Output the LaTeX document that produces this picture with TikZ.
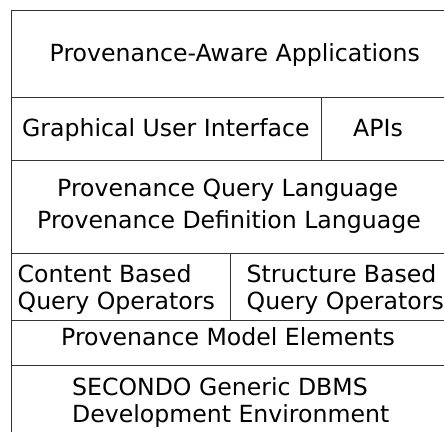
\documentclass[tikz,border=0pt]{standalone}
\usepackage{fontspec}
\setmainfont{DejaVu Sans}
\begin{document}
\begin{tikzpicture}[x=1pt,y=-1pt,
  rule/.style={draw=black!80,line width=1pt},
  lbl/.style={inner sep=0pt,anchor=base west,font=\fontsize{23.6}{27}\selectfont}]
\useasboundingbox (0,0) rectangle (444,432);
% frame and layer separators
\draw[rule] (11.5,432) -- (11.5,10.5) -- (444,10.5);
\draw[rule] (11.5,97) -- (444,97);
\draw[rule] (11.5,160) -- (444,160);
\draw[rule] (11.5,253.3) -- (444,253.3);
\draw[rule] (11.5,320) -- (444,320);
\draw[rule] (11.5,365.5) -- (444,365.5);
\draw[rule] (321.5,97) -- (321.5,160);
\draw[rule] (230.5,253.3) -- (230.5,320);
% layer labels
\node[lbl] (apps) at (49.5,61.7) {Provenance-Aware Applications};
\node[lbl] (gui) at (22,136) {Graphical User Interface};
\node[lbl] (apis) at (353,136) {APIs};
\node[lbl] (pql) at (57,196.5) {Provenance Query Language};
\node[lbl] (pdl) at (37,228) {Provenance Definition Language};
\node[lbl] (cb1) at (17.5,282) {Content Based};
\node[lbl] (cb2) at (17.5,309) {Query Operators};
\node[lbl] (sb1) at (246.5,282) {Structure Based};
\node[lbl] (sb2) at (246.5,309) {Query Operators};
\node[lbl] (pme) at (61,345) {Provenance Model Elements};
\node[lbl] (sec1) at (72,395) {SECONDO Generic DBMS};
\node[lbl] (sec2) at (72,422.3) {Development Environment};
\end{tikzpicture}
\end{document}
